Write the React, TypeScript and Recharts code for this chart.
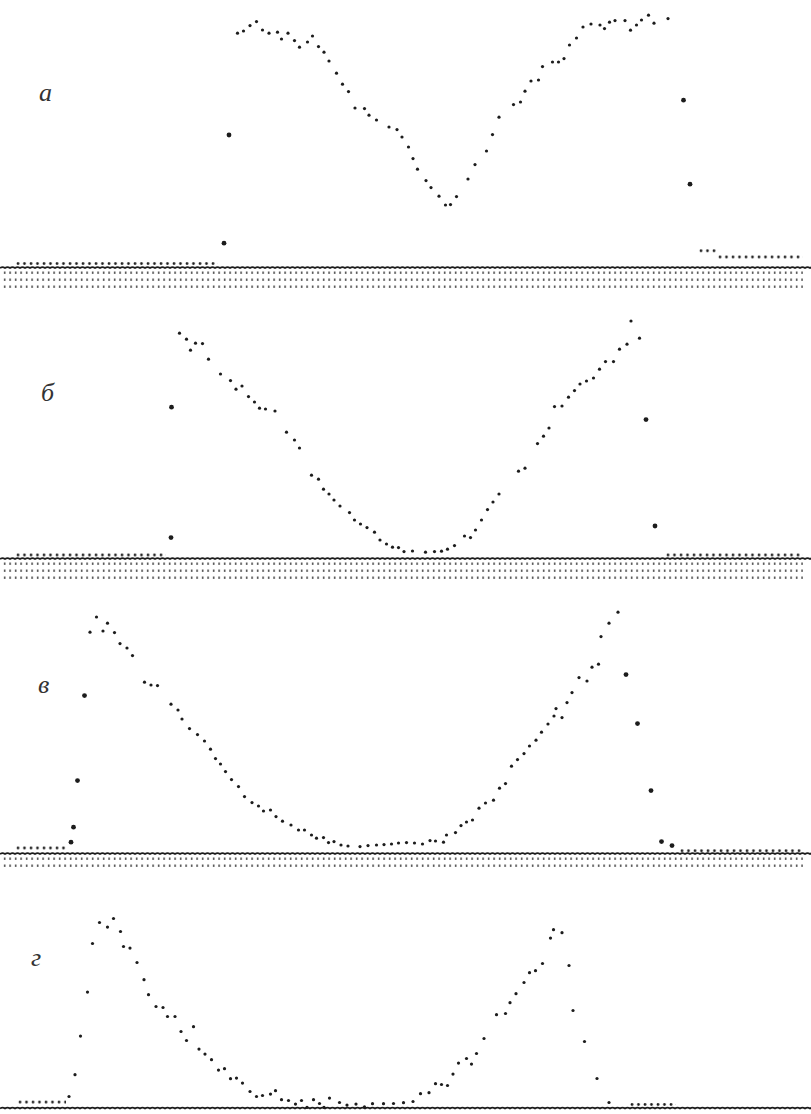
import React from "react";
import { ScatterChart, Scatter, XAxis, YAxis, ReferenceLine, ReferenceArea } from "recharts";

// channel number (x) vs counts above the zero line (y)
const curveA: [number, number][] = [
  [47.5, 117.4], [48.7, 118.5], [50, 121.2], [51.3, 123.2], [52.5, 119], [53.8, 117.4], [55.5, 117.9],
  [56.3, 114.5], [57.6, 117.4], [58.9, 113.7], [59.9, 110.4], [61.5, 113], [62.5, 116], [63.7, 110.7],
  [64.8, 107.9], [65.8, 103.5], [67.3, 97.4], [68.5, 91.9], [69.7, 88.2], [71, 80], [72.9, 79.7],
  [73.8, 76.4], [75.3, 74], [77.8, 70.5], [79.4, 69.2], [80.4, 65.5], [81.7, 60.5], [82.6, 54.7],
  [83.5, 49.4], [85.2, 43.7], [86.2, 40.2], [87.8, 35.9], [89.1, 31.5], [90.1, 31.7], [91.3, 35.7],
  [93.6, 44.5], [95, 51.7], [97.3, 58.5], [98.5, 66.7], [99.8, 75.4], [102.7, 81.7], [104.1, 83],
  [105, 88.4], [106.2, 93.5], [107.7, 94], [108.5, 100.7], [110.5, 103], [111.7, 103], [112.8, 104.7],
  [113.9, 111.5], [115.3, 115], [116.6, 120.5], [118.2, 122], [120, 121.5], [120.9, 119.7], [121.9, 122.9],
  [123, 123.7], [125, 123.7], [126.1, 118.9], [127.3, 121.5], [128.3, 124], [129.7, 126.4], [130.8, 122.4],
  [133.6, 124.7],
];
const edgeA: [number, number][] = [[44.8, 12.4], [45.8, 66.5], [136.7, 83.9], [138, 41.9]];
const floorA = [
  { from: 3, to: 43.5, level: 2.2 },
  { from: 139.6, to: 143.2, level: 8.6 },
  { from: 143.4, to: 160.5, level: 5.5 },
];

const curveB: [number, number][] = [
  [35.9, 112.9], [37.3, 109.9], [38.1, 104.4], [39.1, 107.9], [40.5, 107.7], [41.7, 99.9], [44.1, 92.5],
  [46.1, 89.2], [47.2, 84.9], [48.4, 86.5], [49.7, 81.2], [50.9, 78.5], [51.9, 75.4], [53.1, 75], [55, 74],
  [57.3, 63.4], [58.9, 59.5], [59.9, 55.5], [62.3, 41.9], [63.7, 39.9], [64.7, 34.9], [65.8, 32.5],
  [66.8, 29.5], [68, 26.5], [69.9, 23.2], [70.9, 19.5], [72.1, 17.5], [73.4, 15.7], [74.9, 13.4], [76, 9.5],
  [77.3, 7.5], [78.5, 5.9], [79.7, 5.7], [80.8, 3.7], [82.5, 4], [85.1, 3.4], [86.9, 3.7], [88.3, 3.9],
  [89.5, 4.9], [90.9, 6.7], [92.9, 11.5], [94.1, 10.7], [95.1, 14.5], [96.3, 19.5], [97.5, 24.7],
  [98.6, 28.5], [99.8, 32.5], [103.7, 43.9], [105, 45.4], [107.5, 57.7], [108.7, 61.4], [109.8, 65.5],
  [110.9, 76.2], [112.4, 76.5], [113.7, 80.9], [114.9, 84.2], [116, 87.5], [117.3, 89], [118.7, 90.5],
  [119.9, 94.9], [121.1, 98.7], [122.7, 98.7], [123.9, 104.9], [125.4, 107.4], [126.2, 119], [127.9, 110.4],
];
const edgeB: [number, number][] = [[34.2, 10.7], [34.3, 75.9], [129.2, 69.7], [131, 16.5]];
const floorB = [
  { from: 3, to: 33.2, level: 2 },
  { from: 133, to: 160.5, level: 2 },
];

const curveC: [number, number][] = [
  [18, 110.9], [19.3, 118.5], [20.6, 111.5], [21.5, 115.4], [22.9, 110.7], [24, 105.2], [25.4, 103],
  [26.5, 99.2], [28.9, 85.9], [30.2, 84.5], [31.5, 84.2], [34.2, 74.9], [35.6, 72], [36.4, 67.5],
  [37.9, 62.7], [39.5, 59.7], [40.9, 56.5], [42.1, 52.4], [43.1, 47.7], [44.1, 45], [45.1, 41.2],
  [46.3, 37.2], [47.7, 33.7], [48.9, 28.7], [50.4, 25.7], [51.7, 24], [52.7, 21.5], [54.1, 22],
  [55.2, 18.7], [56.5, 16.4], [58.2, 14.5], [59.7, 12], [60.9, 12], [62.3, 9.5], [63.3, 7.9], [64.7, 8.2],
  [65.7, 5.7], [66.8, 6.2], [68.2, 4.5], [69.6, 4], [72, 3.7], [73.6, 4.2], [75.3, 4.5], [76.8, 4.7],
  [78.3, 5], [79.7, 5.5], [81.3, 5.7], [82.9, 5.5], [84.5, 5], [86, 6.7], [87.1, 6.5], [88.7, 5.9],
  [89.3, 9.5], [91.1, 10.7], [92.2, 14.2], [93.3, 16], [94.5, 17], [95.8, 22.9], [97.1, 25.5],
  [98.7, 26.9], [99.9, 32.9], [101.1, 35.2], [102.3, 43.9], [103.5, 47.2], [104.8, 50.2], [105.9, 54],
  [107.2, 56.9], [108.3, 60.9], [109.6, 65], [110.8, 69], [111.2, 72.7], [112.4, 68.2], [113.4, 75.7],
  [114.4, 80.7], [115.8, 88.2], [117.4, 86.5], [118.4, 93.4], [119.7, 94.9], [120.2, 108.7],
  [121.8, 115.4], [123.6, 120.9],
];
const edgeC: [number, number][] = [
  [14.2, 5.9], [14.7, 13.4], [15.5, 36.7], [16.9, 79.2],
  [125.2, 89.7], [127.5, 65.2], [130.2, 31.7], [132.3, 6.2], [134.4, 4.2],
];
const floorC = [
  { from: 3, to: 13.3, level: 3 },
  { from: 135.8, to: 160.5, level: 1.6 },
];

const curveD: [number, number][] = [
  [13.8, 6], [15, 16.9], [16.1, 36.2], [17.5, 58.2], [18.5, 82.5], [19.9, 93], [21.5, 90.7], [22.7, 95],
  [24.1, 88.5], [24.7, 81], [26, 80.2], [27.4, 73], [28.8, 64.4], [29.7, 56.9], [31.2, 51], [32.6, 50.5],
  [33.5, 46], [35, 46], [36.2, 38.5], [37.3, 34], [38.7, 40.9], [39.8, 29.7], [41, 27.2], [42.3, 24.4],
  [43.7, 19.2], [44.9, 19.9], [46.1, 14.9], [47.3, 15.2], [48.5, 12.7], [50, 8.5], [51.3, 6], [52.5, 6.5],
  [54.1, 7.2], [55.1, 8.9], [56.3, 4.4], [57.7, 4], [59.1, 2.2], [60.3, 4], [61.4, 0.6], [62.7, 4.4],
  [63.9, 2.5], [64.8, 0.6], [65.9, 5.2], [67.9, 3], [69.4, 1.7], [71.2, 2.2], [72.9, 0.8], [74.5, 2.4],
  [76.7, 2.4], [78.7, 2.5], [80.7, 2.9], [82.6, 3.5], [84.1, 7.4], [85.8, 7.9], [87.1, 12.4], [88.3, 12],
  [89.5, 11.5], [90.6, 17.2], [91.7, 22.7], [93.3, 25], [94.3, 22.2], [95.3, 27.5], [96.8, 35],
  [99.3, 46.9], [101.1, 47.5], [102, 52.9], [103.2, 57.4], [104.8, 63], [105.9, 67.9], [107.1, 68.9],
  [108.5, 72.5], [110.1, 85.2], [110.7, 89.4], [112.4, 87.9], [113.8, 71.5], [114.6, 49], [116.9, 33.5],
  [119.4, 15], [121.8, 3],
];
const edgeD: [number, number][] = [];
const floorD = [
  { from: 3.4, to: 13.2, level: 3.2 },
  { from: 125.8, to: 135.2, level: 2 },
];

const labels = ["а", "б", "в", "г"];

const X_MAX = 162.2;
const INK = "#1c1c1c";

const panels = [
  { key: "a", label: labels[0], top: 0, height: 290, baseline: 268, bandRows: 3, curve: curveA, edge: edgeA, floor: floorA, lx: 47, ly: 95 },
  { key: "b", label: labels[1], top: 290, height: 290, baseline: 559, bandRows: 3, curve: curveB, edge: edgeB, floor: floorB, lx: 49, ly: 395 },
  { key: "c", label: labels[2], top: 580, height: 290, baseline: 854, bandRows: 2, curve: curveC, edge: edgeC, floor: floorC, lx: 46, ly: 687 },
  { key: "d", label: labels[3], top: 870, height: 244, baseline: 1108.5, bandRows: 0, curve: curveD, edge: edgeD, floor: floorD, lx: 39, ly: 960 },
];

const toPts = (arr: [number, number][]) => arr.map(([x, y]) => ({ x, y }));

// slightly wavy zero line, like the trace on the original print
function WavyLine(s: any) {
  const x1 = Math.min(s.x1, s.x2);
  const x2 = Math.max(s.x1, s.x2);
  const y = s.y1;
  let d = `M${x1},${y}`;
  for (let x = x1; x < x2; x += 5) {
    d += ` Q${x + 2.5},${y - 1.6} ${Math.min(x + 5, x2)},${y}`;
  }
  return <path d={d} stroke={INK} strokeWidth={1.8} fill="none" />;
}

function Panel({ p }: { p: (typeof panels)[number] }) {
  const yMax = (p.baseline - p.top) / 2;
  const yMin = -(p.top + p.height - p.baseline) / 2;
  const bandBottom = Math.max(-(2 + p.bandRows * 7) / 2, yMin + 0.2);

  const bandShape = (s: any) => (
    <g>
      <defs>
        <pattern id={`band-${p.key}`} x={s.x} y={s.y} width={5.5} height={7} patternUnits="userSpaceOnUse">
          <rect x={2} y={1.5} width={1.3} height={2.4} fill="#2a2a2a" />
        </pattern>
      </defs>
      <rect x={s.x} y={s.y} width={s.width} height={s.height} fill={`url(#band-${p.key})`} />
    </g>
  );

  const floorShape = (i: number) => (s: any) => (
    <g>
      <defs>
        <pattern id={`floor-${p.key}-${i}`} x={s.x} y={s.y} width={6.5} height={s.height} patternUnits="userSpaceOnUse">
          <circle cx={3} cy={s.height / 2} r={1.35} fill={INK} />
        </pattern>
      </defs>
      <rect x={s.x} y={s.y} width={s.width} height={s.height} fill={`url(#floor-${p.key}-${i})`} />
    </g>
  );

  return (
    <div style={{ position: "absolute", left: 0, top: p.top, width: 811, height: p.height }}>
      <ScatterChart width={811} height={p.height} margin={{ top: 0, right: 0, bottom: 0, left: 0 }}>
        <XAxis type="number" dataKey="x" domain={[0, X_MAX]} hide allowDataOverflow />
        <YAxis type="number" dataKey="y" domain={[yMin, yMax]} hide allowDataOverflow />
        {p.bandRows > 0 && (
          <ReferenceArea x1={0.4} x2={160.6} y1={bandBottom} y2={-1} shape={bandShape} ifOverflow="visible" />
        )}
        {p.floor.map((f, i) => (
          <ReferenceArea key={i} x1={f.from} x2={f.to} y1={f.level - 1.2} y2={f.level + 1.2} shape={floorShape(i)} />
        ))}
        <ReferenceLine y={0} shape={WavyLine} segment={[{ x: 0.6, y: 0 }, { x: 160.6, y: 0 }]} />
        <Scatter
          data={toPts(p.curve)}
          isAnimationActive={false}
          shape={(s: any) => <circle cx={s.cx} cy={s.cy} r={1.6} fill={INK} />}
        />
        <Scatter
          data={toPts(p.edge)}
          isAnimationActive={false}
          shape={(s: any) => <circle cx={s.cx} cy={s.cy} r={2.4} fill={INK} />}
        />
      </ScatterChart>
      <div
        style={{
          position: "absolute",
          left: p.lx - 8,
          top: p.ly - p.top - 16,
          fontFamily: "'Liberation Serif', serif",
          fontStyle: "italic",
          fontSize: 26,
          color: "#333",
          lineHeight: "28px",
        }}
      >
        {p.label}
      </div>
    </div>
  );
}

export default function App() {
  return (
    <div style={{ position: "absolute", left: 0, top: 0, width: 811, height: 1114, background: "#fff" }}>
      {panels.map((p) => (
        <Panel key={p.key} p={p} />
      ))}
    </div>
  );
}
